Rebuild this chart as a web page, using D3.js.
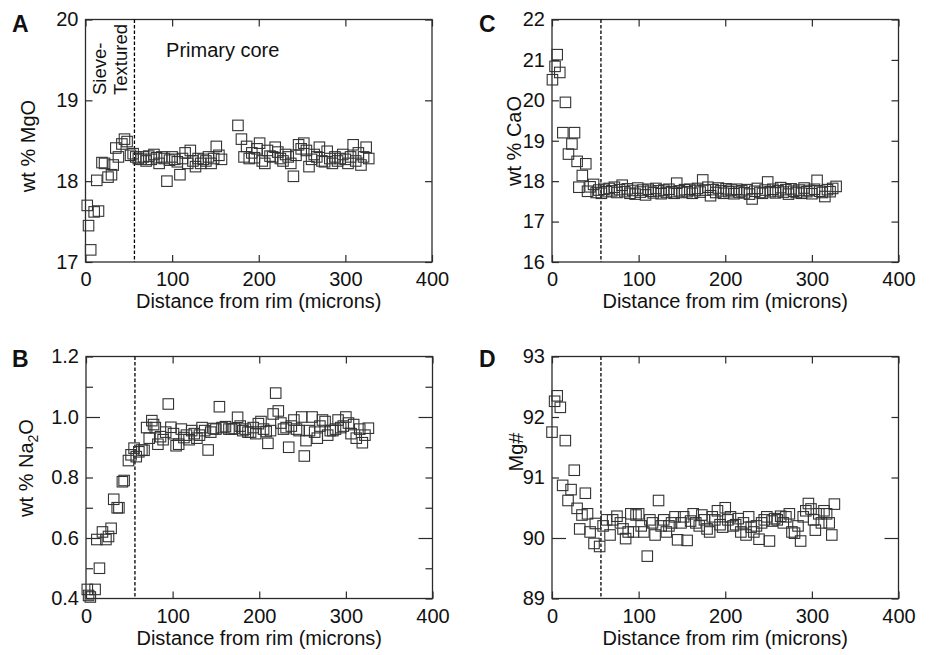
<!DOCTYPE html>
<html>
<head>
<meta charset="utf-8">
<script src="https://cdn.jsdelivr.net/npm/d3@7"></script>
<style>
    body { margin: 0; background: #fff; }
    svg { font-family: "Liberation Sans", Arial, Helvetica, sans-serif; }
</style>
</head>
<body>
<svg id="chart" width="931" height="655"></svg>
<script>
// ---- data (distance from rim in microns, value) ----
const mgoPoints = [
    [2,17.70],[3.5,17.45],[6,17.15],[10,17.62],[15,17.63],[13,18.01],[19,18.23],[22,18.22],[26,18.05],
    [30,18.08],[32,18.20],[35,18.41],[38,18.30],[42,18.46],[45,18.52],[48,18.49],[52,18.32],[55,18.34],
    [58,18.30],[61,18.28],[64,18.27],[67,18.30],[70,18.25],[73,18.31],[76,18.27],[79,18.33],[82,18.29],
    [85,18.22],[88,18.30],[91,18.28],[94,18.00],[97,18.26],[100,18.30],[103,18.27],[106,18.24],[109,18.08],
    [112,18.28],[115,18.35],[118,18.22],[121,18.38],[124,18.25],[127,18.18],[130,18.28],[133,18.22],
    [136,18.27],[139,18.25],[142,18.30],[145,18.22],[148,18.28],[151,18.43],[154,18.32],[157,18.27],
    [176,18.69],[180,18.52],[183,18.30],[186,18.43],[189,18.28],[192,18.35],[195,18.29],[198,18.40],
    [201,18.47],[204,18.25],[207,18.22],[210,18.38],[213,18.31],[216,18.30],[219,18.42],[222,18.36],
    [225,18.28],[228,18.25],[231,18.33],[234,18.30],[237,18.22],[240,18.06],[243,18.32],[246,18.45],
    [249,18.40],[252,18.47],[255,18.38],[258,18.18],[261,18.27],[264,18.33],[267,18.30],[270,18.42],
    [273,18.25],[276,18.24],[279,18.37],[282,18.28],[285,18.22],[288,18.30],[291,18.25],[294,18.28],
    [297,18.33],[300,18.27],[303,18.22],[306,18.30],[309,18.45],[312,18.25],[315,18.35],[318,18.20],
    [321,18.30],[324,18.42],[327,18.28]
];

const caoPoints = [
    [0.5,20.51],[3.5,20.84],[6,21.13],[9,20.69],[15.5,19.95],[12.5,19.20],[26,19.20],[23,18.92],[19,18.67],
    [29,18.49],[39,18.43],[35,18.14],[31,17.85],[41,17.75],[44,17.86],[48,17.92],[51,17.72],[54,17.78],
    [57,17.70],[60,17.80],[63,17.74],[66,17.82],[69,17.76],[72,17.85],[75,17.72],[78,17.79],[81,17.90],
    [84,17.74],[87,17.81],[90,17.70],[93,17.77],[96,17.68],[99,17.83],[102,17.73],[105,17.78],[108,17.66],
    [111,17.80],[114,17.75],[117,17.71],[120,17.82],[123,17.76],[126,17.69],[129,17.78],[132,17.72],
    [135,17.80],[138,17.74],[141,17.70],[144,17.95],[147,17.76],[150,17.72],[153,17.79],[156,17.74],
    [159,17.80],[162,17.70],[165,17.77],[168,17.82],[171,17.73],[174,18.03],[177,17.78],[180,17.85],
    [183,17.64],[186,17.79],[189,17.72],[192,17.83],[195,17.76],[198,17.70],[201,17.81],[204,17.74],
    [207,17.78],[210,17.69],[213,17.80],[216,17.73],[219,17.76],[222,17.71],[225,17.79],[228,17.68],
    [231,17.56],[234,17.75],[237,17.82],[240,17.72],[243,17.70],[246,17.78],[249,17.98],[252,17.74],
    [255,17.80],[258,17.71],[261,17.76],[264,17.84],[267,17.73],[270,17.79],[273,17.68],[276,17.81],
    [279,17.75],[282,17.72],[285,17.78],[288,17.70],[291,17.83],[294,17.74],[297,17.77],[300,17.69],
    [303,17.80],[306,18.02],[309,17.75],[312,17.72],[315,17.62],[318,17.79],[321,17.74],[324,17.82],
    [328,17.87]
];

const na2oPoints = [
    [1.5,0.43],[3,0.41],[5,0.405],[10.5,0.43],[15.5,0.50],[12.5,0.595],[19,0.62],[23,0.595],[26,0.605],
    [29,0.632],[32,0.728],[38,0.70],[36,0.70],[42,0.786],[44,0.79],[49,0.856],[52,0.875],[55.5,0.897],
    [58,0.869],[61,0.885],[64.5,0.891],[67,0.89],[70,0.965],[73,0.93],[76,0.988],[78,0.975],[80,0.965],
    [83,0.91],[86,0.935],[89,0.925],[92,0.95],[95,1.043],[98,0.966],[101,0.945],[104,0.905],[107,0.91],
    [110,0.96],[113,0.932],[116,0.94],[119,0.925],[122,0.955],[125,0.945],[128,0.93],[131,0.94],
    [134,0.965],[137,0.955],[141,0.891],[144,0.95],[147,0.962],[150,0.96],[154,1.034],[157,0.965],
    [161,0.968],[165,0.96],[168,0.96],[171,0.962],[175,0.999],[178,0.97],[181,0.955],[184,0.96],
    [187,0.95],[190,0.95],[193,0.965],[196,0.945],[199,0.978],[202,0.985],[205,0.96],[208,0.952],
    [210,0.913],[213,0.955],[216,1.01],[219,1.079],[222,1.02],[225,0.98],[228,0.96],[231,0.965],
    [234,0.90],[237,0.97],[240,0.99],[243,0.96],[246,0.955],[249,1.0],[252,0.871],[254,0.922],
    [258,0.955],[261,1.0],[264,0.95],[267,0.93],[270,0.97],[273,0.99],[276,0.985],[279,0.94],
    [282,0.955],[285,0.955],[288,0.96],[291,0.99],[294,0.965],[297,0.97],[300,1.0],[303,0.98],
    [306,0.945],[309,0.975],[312,0.93],[316,0.96],[319,0.915],[322,0.94],[326,0.963]
];

const mgNumPoints = [
    [0,91.75],[3,92.26],[6,92.35],[9.6,92.16],[15.4,91.61],[25.7,91.12],[12.3,90.87],[22,90.80],
    [18.5,90.62],[38.5,90.74],[29,90.49],[34.6,90.38],[41,90.40],[32,90.15],[44,90.10],[50,90.24],
    [48.5,89.91],[55,89.86],[59,90.20],[63,90.30],[67,90.05],[70,90.30],[75,90.36],[79,90.25],
    [82,90.15],[85,89.99],[88,90.10],[91,90.40],[94,90.10],[97,90.38],[100,90.40],[103,90.20],
    [106,90.10],[110,89.70],[113,90.30],[116,90.25],[119,90.05],[123,90.62],[126,90.20],[129,90.30],
    [132,90.10],[135,90.20],[138,90.25],[142,90.35],[145,89.97],[149,90.25],[152,90.35],[156,89.96],
    [160,90.28],[163,90.40],[166,90.25],[170,90.20],[173,90.38],[176,90.30],[179,90.15],[182,90.10],
    [185,90.35],[188,90.30],[191,90.45],[194,90.22],[197,90.18],[200,90.50],[203,90.30],[206,90.35],
    [209,90.20],[212,90.22],[215,90.32],[218,90.10],[221,90.25],[224,90.05],[227,90.35],[230,90.18],
    [233,90.10],[236,90.20],[239,89.98],[242,90.25],[245,90.30],[248,90.35],[251,89.95],[254,90.28],
    [257,90.32],[260,90.30],[264,90.36],[267,90.25],[270,90.35],[274,90.40],[277,90.10],[280,90.08],
    [284,90.20],[287,89.95],[290,90.35],[293,90.45],[296,90.57],[299,90.48],[302,90.30],[304,90.13],
    [308,90.40],[311,90.25],[314,90.45],[317,90.40],[320,90.25],[323,90.05],[326,90.56]
];

// axis ticks
const xTicks = [0, 100, 200, 300, 400];
const mgoTicks = [17, 18, 19, 20];
const caoTicks = [16, 17, 18, 19, 20, 21, 22];
const na2oTicks = [0.4, 0.5, 0.6, 0.7, 0.8, 0.9, 1.0, 1.1, 1.2];
const na2oLabels = [0.4, 0.6, 0.8, 1.0, 1.2];
const mgNumTicks = [89, 90, 91, 92, 93];

// boundary between sieve-textured rim and primary core (microns)
const boundary = 56.5;

const svg = d3.select('#chart');
const ink = '#2b2b2b';
const fontPx = '20px';

/**
 * Draw one panel
 */
function drawPanel(p) {
    const g = svg.append('g');

    const x = d3.scaleLinear().domain([0, 400]).range([p.left, p.right]);
    const y = d3.scaleLinear().domain(p.yDomain).range([p.bottom, p.top]);

    const tickLen = v => (p.longTicks || []).includes(v) ? 14 : 7;
    const labelled = v => (p.yLabels || p.yTicks).includes(v);

    // Left axis
    const left = g.append('g')
        .attr('transform', `translate(${p.left},0)`)
        .call(d3.axisLeft(y).tickValues(p.yTicks).tickSize(-7).tickPadding(7)
            .tickFormat(v => labelled(v) ? p.fmt(v) : ''));
    left.selectAll('.tick line').attr('x2', d => tickLen(d));

    // Right axis
    const right = g.append('g')
        .attr('transform', `translate(${p.right},0)`)
        .call(d3.axisRight(y).tickValues(p.yTicks).tickSize(-7).tickFormat(''));
    right.selectAll('.tick line').attr('x2', d => -tickLen(d));

    // Bottom axis
    const bottom = g.append('g')
        .attr('transform', `translate(0,${p.bottom})`)
        .call(d3.axisBottom(x).tickValues(xTicks).tickSize(-7).tickPadding(10));

    // Top axis
    const top = g.append('g')
        .attr('transform', `translate(0,${p.top})`)
        .call(d3.axisTop(x).tickValues(xTicks).tickSize(-7).tickFormat(''));

    [left, right, bottom, top].forEach(a => {
        a.attr('font-family', null).attr('font-size', null);
        a.select('.domain').remove();
        a.selectAll('.tick line').attr('stroke', ink).attr('stroke-width', 1.2);
        a.selectAll('.tick text').style('font-size', fontPx).attr('fill', '#111');
    });

    // Frame
    g.append('rect')
        .attr('x', p.left)
        .attr('y', p.top)
        .attr('width', p.right - p.left)
        .attr('height', p.bottom - p.top)
        .attr('fill', 'none')
        .attr('stroke', ink)
        .attr('stroke-width', 1.3);

    // Dashed boundary line
    g.append('line')
        .attr('x1', x(boundary))
        .attr('x2', x(boundary))
        .attr('y1', p.top)
        .attr('y2', p.bottom)
        .attr('stroke', '#000')
        .attr('stroke-width', 1.3)
        .attr('stroke-dasharray', '3.5,2');

    // Squares
    const s = 10.5;
    g.selectAll('.pt')
        .data(p.data)
        .enter()
        .append('rect')
        .attr('class', 'pt')
        .attr('x', d => x(d[0]) - s / 2)
        .attr('y', d => y(d[1]) - s / 2)
        .attr('width', s)
        .attr('height', s)
        .attr('fill', 'none')
        .attr('stroke', '#333')
        .attr('stroke-width', 1.1);

    // X title
    g.append('text')
        .attr('x', (p.left + p.right) / 2)
        .attr('y', p.bottom + 46)
        .attr('text-anchor', 'middle')
        .style('font-size', fontPx)
        .attr('fill', '#111')
        .text('Distance from rim (microns)');

    // Y title
    const yt = g.append('text')
        .attr('transform', `translate(${p.yTitleX},${p.yTitleY}) rotate(-90)`)
        .attr('text-anchor', 'middle')
        .style('font-size', fontPx)
        .attr('fill', '#111');
    p.yTitle.forEach(part => {
        const t = yt.append('tspan').text(part.text);
        if (part.sub) t.attr('dy', 5).style('font-size', '14px');
        else if (part.after) t.attr('dy', -5);
    });

    // Panel letter
    g.append('text')
        .attr('x', p.letterX)
        .attr('y', p.letterY)
        .style('font-size', '23px')
        .style('font-weight', 'bold')
        .attr('fill', '#111')
        .text(p.letter);

    return { g, x, y };
}

const fmt0 = d3.format('d');
const fmt1 = d3.format('.1f');

const panelA = drawPanel({
    letter: 'A', letterX: 12, letterY: 31.5,
    left: 85.5, right: 432, top: 19.5, bottom: 262,
    yDomain: [17, 20], yTicks: mgoTicks, fmt: fmt0,
    yTitle: [{ text: 'wt % MgO' }], yTitleX: 35, yTitleY: 146,
    data: mgoPoints
});

drawPanel({
    letter: 'C', letterX: 479, letterY: 31.5,
    left: 552, right: 898.5, top: 19.5, bottom: 262,
    yDomain: [16, 22], yTicks: caoTicks, fmt: fmt0,
    yTitle: [{ text: 'wt % CaO' }], yTitleX: 521, yTitleY: 141,
    data: caoPoints
});

drawPanel({
    letter: 'B', letterX: 12, letterY: 366.5,
    left: 86, right: 432.5, top: 356.5, bottom: 598.5,
    yDomain: [0.4, 1.2], yTicks: na2oTicks, yLabels: na2oLabels, fmt: fmt1,
    longTicks: [0.6, 1.0],
    yTitle: [{ text: 'wt % Na' }, { text: '2', sub: true }, { text: 'O', after: true }],
    yTitleX: 33, yTitleY: 468,
    data: na2oPoints
});

drawPanel({
    letter: 'D', letterX: 479, letterY: 366.5,
    left: 552, right: 898.5, top: 356.5, bottom: 598.5,
    yDomain: [89, 93], yTicks: mgNumTicks, fmt: fmt0,
    longTicks: [90],
    yTitle: [{ text: 'Mg#' }], yTitleX: 523, yTitleY: 452,
    data: mgNumPoints
});

// Annotations in panel A
const ax = panelA.x;
const anno = panelA.g.append('g').style('font-size', '18.5px').attr('fill', '#111');
anno.append('text')
    .attr('transform', `translate(106,95) rotate(-90)`)
    .text('Sieve-');
anno.append('text')
    .attr('transform', `translate(126.5,95) rotate(-90)`)
    .text('Textured');
anno.append('text')
    .attr('x', ax(93))
    .attr('y', 56.5)
    .style('font-size', fontPx)
    .text('Primary core');
</script>
</body>
</html>
